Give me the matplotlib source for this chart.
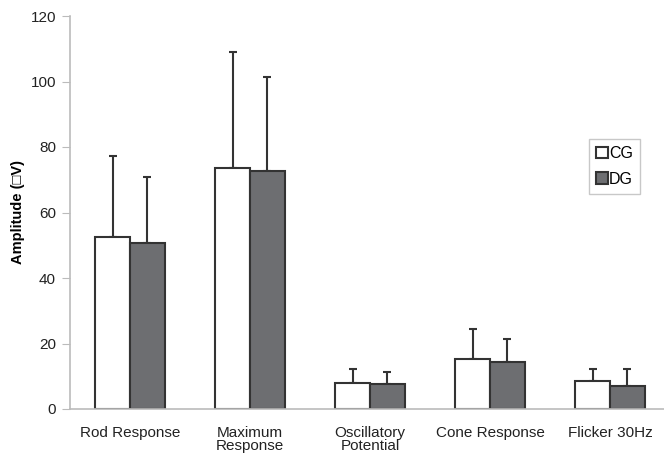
import matplotlib
matplotlib.use("Agg")
import matplotlib.pyplot as plt
import numpy as np

categories = ["Rod Response", "Maximum\nResponse", "Oscillatory\nPotential",
              "Cone Response", "Flicker 30Hz"]
cg_mean = [52.4, 73.5, 8.0, 15.2, 8.5]
cg_sd = [25.0, 35.4, 4.2, 9.2, 3.7]
dg_mean = [50.6, 72.7, 7.5, 14.4, 7.1]
dg_sd = [20.3, 28.7, 3.9, 7.1, 5.1]
y_ticks = [0, 20, 40, 60, 80, 100, 120]

plt.rcParams['font.family'] = ['Liberation Sans', 'DejaVu Sans']

fig = plt.figure(figsize=(6.64, 4.53), dpi=100)
ax = fig.add_axes([70 / 664, 44 / 453, 600 / 664, 393 / 453])

x = np.arange(len(categories))
w = 0.29
edge = "#333333"
ax.bar(x - w / 2, cg_mean, w, color="white", edgecolor=edge, linewidth=1.5,
       label="CG", zorder=2)
ax.bar(x + w / 2, dg_mean, w, color="#6d6e71", edgecolor=edge, linewidth=1.5,
       label="DG", zorder=2)

err_kw = dict(fmt="none", ecolor=edge, elinewidth=1.5, capsize=3, capthick=1.5, zorder=1)
ax.errorbar(x - w / 2, cg_mean, yerr=[np.zeros(5), cg_sd], **err_kw)
ax.errorbar(x + w / 2, dg_mean, yerr=[np.zeros(5), dg_sd], **err_kw)

ax.set_xlim(-0.5, 4.5)
ax.set_ylim(0, 120)
ax.set_yticks(y_ticks)
ax.set_xticks(x)
ax.set_xticklabels(categories, fontsize=11, color="#222222", linespacing=0.95)
ax.tick_params(axis="x", length=0, pad=12)
ax.tick_params(axis="y", length=6, color="#bbbbbb", labelsize=11, labelcolor="#222222", pad=4)

for s in ["top", "right"]:
    ax.spines[s].set_visible(False)
for s in ["left", "bottom"]:
    ax.spines[s].set_color("#bbbbbb")
    ax.spines[s].set_linewidth(1.2)

ax.set_ylabel("Amplitude (\u25a1V)", fontsize=10.5, fontweight="bold")
ax.yaxis.set_label_coords(-45 / 600, 0.5)

leg = ax.legend(loc="upper left", bbox_to_anchor=(589 / 664, 1 - 139 / 453),
                bbox_transform=fig.transFigure, fontsize=11.5, frameon=True,
                fancybox=False, edgecolor="#bbbbbb", handlelength=0.75,
                handleheight=0.75, handletextpad=0.05, borderpad=0.45,
                labelspacing=0.65, borderaxespad=0)
leg.get_frame().set_linewidth(1.0)

fig.savefig("out.png", dpi=100)
